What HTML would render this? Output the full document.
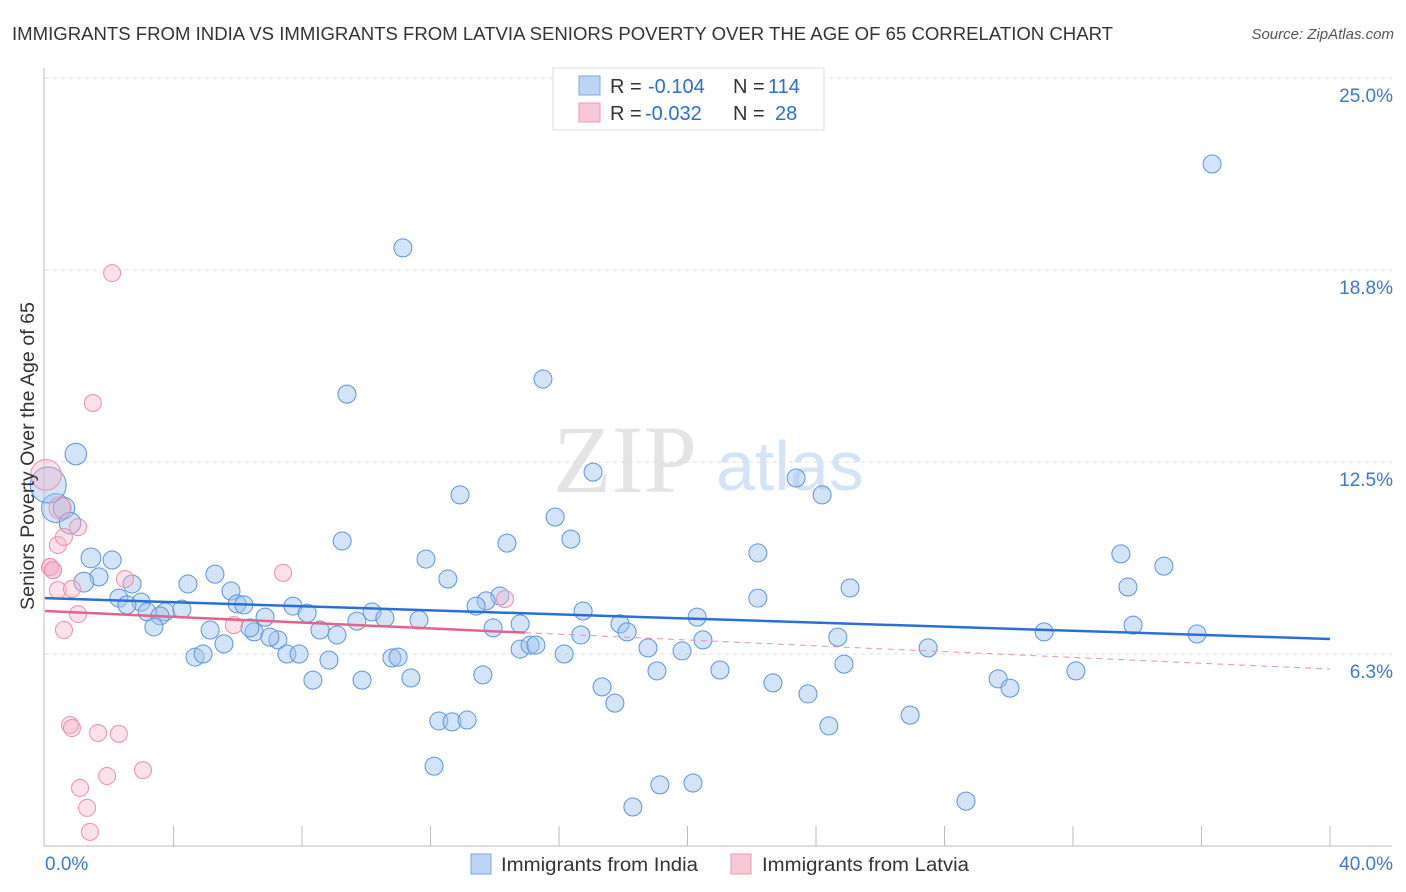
<!DOCTYPE html>
<html><head><meta charset="utf-8"><style>
body{margin:0;background:#fff;font-family:"Liberation Sans",sans-serif}
svg{display:block}
</style></head><body>
<svg id="chart" width="1406" height="892" xmlns="http://www.w3.org/2000/svg">
<text x="12" y="40" font-size="18" fill="#333" textLength="1101" lengthAdjust="spacingAndGlyphs">IMMIGRANTS FROM INDIA VS IMMIGRANTS FROM LATVIA SENIORS POVERTY OVER THE AGE OF 65 CORRELATION CHART</text>
<text x="1394" y="39" font-size="15" fill="#555" font-style="italic" text-anchor="end">Source: ZipAtlas.com</text>
<g>
<text x="553" y="492" font-family="Liberation Serif,serif" font-size="96" fill="#e4e4e4">ZIP</text>
<text x="716" y="490" font-size="70" fill="#d4e4f6">atlas</text>
</g>
<g id="grid"></g>
<g id="axes"></g>
<g id="pts"></g>
<g id="trends"></g>
<text transform="translate(34,456) rotate(-90)" font-size="19" fill="#333" text-anchor="middle" textLength="308" lengthAdjust="spacingAndGlyphs">Seniors Poverty Over the Age of 65</text>
<g>
<rect x="553" y="68" width="271" height="62" fill="#fff" stroke="#ddd"/>
<rect x="579" y="76" width="21" height="19" fill="#bcd5f5" stroke="#7fa8e0"/>
<rect x="579" y="103" width="21" height="19" fill="#f9c8d6" stroke="#ee9ab3"/>
<text x="610" y="93" font-size="20" fill="#333">R =</text>
<text x="648" y="93" font-size="20" fill="#2a6dd6">-0.104</text>
<text x="733" y="93" font-size="20" fill="#333">N =</text>
<text x="768" y="93" font-size="20" fill="#2a6dd6">114</text>
<text x="610" y="120" font-size="20" fill="#333">R =</text>
<text x="645" y="120" font-size="20" fill="#2a6dd6">-0.032</text>
<text x="733" y="120" font-size="20" fill="#333">N =</text>
<text x="775" y="120" font-size="20" fill="#2a6dd6">28</text>
</g>
<g>
<rect x="471" y="854" width="20" height="20" fill="#bcd5f5" stroke="#7fa8e0"/>
<text x="501" y="871" font-size="19" fill="#333" textLength="197" lengthAdjust="spacingAndGlyphs">Immigrants from India</text>
<rect x="731" y="854" width="20" height="20" fill="#f9c8d6" stroke="#ee9ab3"/>
<text x="762" y="871" font-size="19" fill="#333" textLength="207" lengthAdjust="spacingAndGlyphs">Immigrants from Latvia</text>
</g>
</svg>
<script>
const yTicks=[6.25,12.5,18.75,25];
const yTickLabels=["6.3%","12.5%","18.8%","25.0%"];
const xTickLabels=["0.0%","40.0%"];
const indiaX=[36.33,11.14,9.40,15.50,0.96,0.34,0.59,0.78,12.92,17.06,23.38,24.19,15.88,9.25,14.38,16.37,11.86,1.43,2.09,22.19,33.49,34.83,12.54,1.68,1.21,2.71,4.45,5.29,5.79,33.71,25.06,22.19,14.16,13.73,13.42,2.30,2.99,2.55,3.18,3.74,4.26,3.58,5.98,6.19,6.85,7.72,8.16,10.18,9.71,10.58,11.64,16.75,20.30,17.90,18.12,14.79,13.95,3.39,5.14,6.51,7.25,8.56,9.09,5.57,6.38,7.53,7.91,7.00,4.67,4.92,8.84,10.80,10.99,16.68,20.48,24.68,31.10,33.87,35.86,14.79,15.10,15.28,16.16,18.77,19.83,27.49,8.34,9.87,11.39,13.63,19.05,21.01,24.87,32.09,17.34,17.74,22.66,23.75,29.67,30.04,12.26,12.67,13.14,26.93,24.40,12.11,19.14,20.17,18.30,28.67,0.1];
const indiaY=[22.20,19.47,14.71,15.20,12.76,11.00,11.00,10.51,11.43,12.17,11.98,11.43,10.71,9.93,9.86,9.99,9.34,9.38,9.31,9.54,9.51,9.11,8.69,8.76,8.59,8.53,8.53,8.85,8.30,8.43,8.40,8.07,8.14,7.98,7.81,8.07,7.94,7.85,7.62,7.62,7.71,7.49,7.88,7.85,7.45,7.81,7.58,7.62,7.32,7.42,7.36,7.65,7.45,7.23,6.97,7.23,7.10,7.13,7.03,6.97,6.71,7.03,6.87,6.58,7.10,6.25,6.25,6.80,6.15,6.25,6.05,6.12,6.15,6.87,6.71,6.80,6.97,7.19,6.90,6.41,6.54,6.54,6.25,6.45,6.35,6.45,5.40,5.40,5.47,5.57,5.70,5.73,5.92,5.70,5.18,4.65,5.31,4.95,5.44,5.14,4.07,4.04,4.10,4.26,3.91,2.60,1.99,2.05,1.27,1.46,11.75];
const indiaSize=[1,1,1,1,1.2,1.6,1.2,1.2,1,1,1,1,1,1,1,1,1,1.1,1,1,1,1,1,1,1.1,1,1,1,1,1,1,1,1,1,1,1,1,1,1,1,1,1,1,1,1,1,1,1,1,1,1,1,1,1,1,1,1,1,1,1,1,1,1,1,1,1,1,1,1,1,1,1,1,1,1,1,1,1,1,1,1,1,1,1,1,1,1,1,1,1,1,1,1,1,1,1,1,1,1,1,1,1,1,1,1,1,1,1,1,1,2];
const latviaX=[2.09,1.49,0.03,0.47,1.03,0.40,0.59,0.16,0.25,0.40,0.84,2.49,7.41,1.03,0.59,5.88,14.32,0.78,0.84,1.65,2.30,3.05,1.93,1.09,1.31,1.40,0.16,0.25];
const latviaY=[18.65,14.42,12.08,11.00,10.38,9.80,10.06,9.08,8.98,8.33,8.37,8.69,8.89,7.55,7.03,7.19,8.04,3.94,3.84,3.68,3.65,2.47,2.28,1.89,1.24,0.46,9.08,8.98];
const latviaSize=[1,1,1.8,1.3,1,1,1,1,1,1,1,1,1,1,1,1,1,1,1,1,1,1,1,1,1,1,1,1];
const trendIndia=[8.07,6.74];
const trendLatvia=[7.65,5.76];
const latviaSolidEnd=14.94;
const X=v=>45+v/40*1285, Y=v=>846-v*30.72;
const NS="http://www.w3.org/2000/svg";
function mk(tag,attrs,parent){const e=document.createElementNS(NS,tag);for(const k in attrs)e.setAttribute(k,attrs[k]);document.getElementById(parent).appendChild(e);return e;}
yTicks.forEach((t,i)=>{
 const l=mk('line',{x1:45,x2:1392,y1:Y(t),y2:Y(t),stroke:'#ddd','stroke-dasharray':'4,4'},'grid');
 
 
 const tx=mk('text',{x:1393,y:Y(t)+24,'font-size':19,fill:'#3a78d8','text-anchor':'end'},'grid');
 tx.textContent=yTickLabels[i];
 
 
});
let a=mk('line',{x1:44,x2:44,y1:68,y2:846,stroke:'#bbb'},'axes');


a=mk('line',{x1:44,x2:1392,y1:846,y2:846,stroke:'#bbb'},'axes');


for(let v=4;v<=40;v+=4){const t=mk('line',{x1:X(v),x2:X(v),y1:826,y2:846,stroke:'#bbb'},'axes');
 
 }
let xl=mk('text',{x:45,y:870,'font-size':19,fill:'#3a78d8'},'axes');xl.textContent=xTickLabels[0];


xl=mk('text',{x:1393,y:870,'font-size':19,fill:'#3a78d8','text-anchor':'end'},'axes');xl.textContent=xTickLabels[1];


indiaX.forEach((x,i)=>{const c=mk('circle',{cx:X(x),cy:Y(indiaY[i]),r:9*indiaSize[i],fill:'rgba(160,196,240,0.45)',stroke:'#5b93e0','stroke-width':1},'pts');
 
 });
latviaX.forEach((x,i)=>{const c=mk('circle',{cx:X(x),cy:Y(latviaY[i]),r:8.5*latviaSize[i],fill:'rgba(246,180,200,0.4)',stroke:'#ec8fab','stroke-width':1},'pts');
 
 });
let tl=mk('line',{x1:X(0),y1:Y(trendIndia[0]),x2:X(40),y2:Y(trendIndia[1]),stroke:'#2a6fd8','stroke-width':2.5},'trends');


const ly=v=>trendLatvia[0]+(trendLatvia[1]-trendLatvia[0])*v/40;
tl=mk('line',{x1:X(0),y1:Y(ly(0)),x2:X(latviaSolidEnd),y2:Y(ly(latviaSolidEnd)),stroke:'#e4638d','stroke-width':2.5},'trends');


tl=mk('line',{x1:X(latviaSolidEnd),y1:Y(ly(latviaSolidEnd)),x2:X(40),y2:Y(ly(40)),stroke:'#e88fab','stroke-width':1,'stroke-dasharray':'6,5'},'trends');


</script>
</body></html>
